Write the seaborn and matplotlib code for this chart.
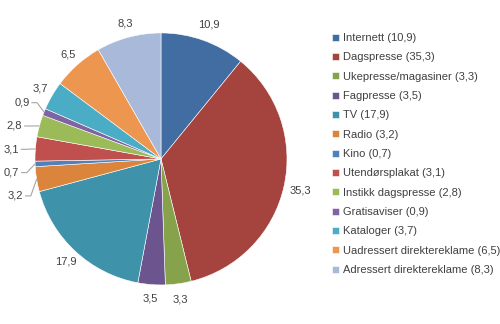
import numpy as np
import matplotlib
matplotlib.use("Agg")
import matplotlib.pyplot as plt
import seaborn as sns

# Share of advertising spend by medium (percent)
categories = [
    "Internett", "Dagspresse", "Ukepresse/magasiner", "Fagpresse", "TV",
    "Radio", "Kino", "Utendørsplakat", "Instikk dagspresse", "Gratisaviser",
    "Kataloger", "Uadressert direktereklame", "Adressert direktereklame",
]
shares = [10.9, 35.3, 3.3, 3.5, 17.9, 3.2, 0.7, 3.1, 2.8, 0.9, 3.7, 6.5, 8.3]
palette = [
    "#416DA2", "#A5433F", "#86A24B", "#6C558E", "#3E93AB", "#DB843C",
    "#4F81BD", "#C0504D", "#9BBB59", "#8064A2", "#4BACC6", "#EC9650",
    "#A8B9D9",
]

sns.set_theme(style="white")
plt.rcParams["font.family"] = ["Liberation Sans", "DejaVu Sans"]

TEXT = "#404040"
LINE = "#A6A6A6"


def fmt(v):
    return f"{v:.1f}".replace(".", ",")


fig = plt.figure(figsize=(5, 3.24), dpi=100)
ax = fig.add_axes([0.07, 0.1204, 0.504, 0.778])
wedges, _ = ax.pie(
    shares, colors=palette, startangle=90, counterclock=False,
    wedgeprops=dict(edgecolor="white", linewidth=0.4),
)
ax.set_xlim(-1, 1)
ax.set_ylim(-1, 1)
ax.set_aspect("equal")

# mid-angle of every wedge
mids = [np.deg2rad((w.theta1 + w.theta2) / 2) for w in wedges]

# small slices on the left get leader lines and are spread vertically
leader = [i for i, (v, a) in enumerate(zip(shares, mids)) if v <= 3.2 and np.cos(a) < -0.5]
R_OUT = 1.2
GAP = 0.185
ys = {i: R_OUT * np.sin(mids[i]) for i in leader}
prev = None
for i in sorted(leader, key=lambda k: -ys[k]):
    if prev is not None and ys[i] > prev - GAP:
        ys[i] = prev - GAP
    prev = ys[i]

for i, (v, a) in enumerate(zip(shares, mids)):
    if i in leader:
        y = ys[i]
        x = -np.sqrt(max(R_OUT ** 2 - y ** 2, 0.0))
        xr = x + 0.07
        ax.text(xr, y, fmt(v), ha="right", va="center", fontsize=8, color=TEXT)
        ex, ey = np.cos(a), np.sin(a)
        ax.plot([xr + 0.015, xr + 0.06, ex], [y, y, ey], color=LINE, lw=0.8,
                clip_on=False, solid_capstyle="butt")
    else:
        r = 1.13 if np.cos(a) > 0 else 1.11
        ax.text(r * np.cos(a), r * np.sin(a), fmt(v), ha="center", va="center",
                fontsize=8, color=TEXT)

labels = [f"{c} ({fmt(v)})" for c, v in zip(categories, shares)]
fig.legend(
    wedges, labels, loc="upper left", bbox_to_anchor=(332 / 500, 1 - 33 / 324),
    frameon=False, fontsize=8, handlelength=0.6, handleheight=0.6,
    handletextpad=0.35, labelspacing=0.84, borderpad=0, borderaxespad=0,
    labelcolor=TEXT,
)

fig.savefig("out.png", dpi=100)
